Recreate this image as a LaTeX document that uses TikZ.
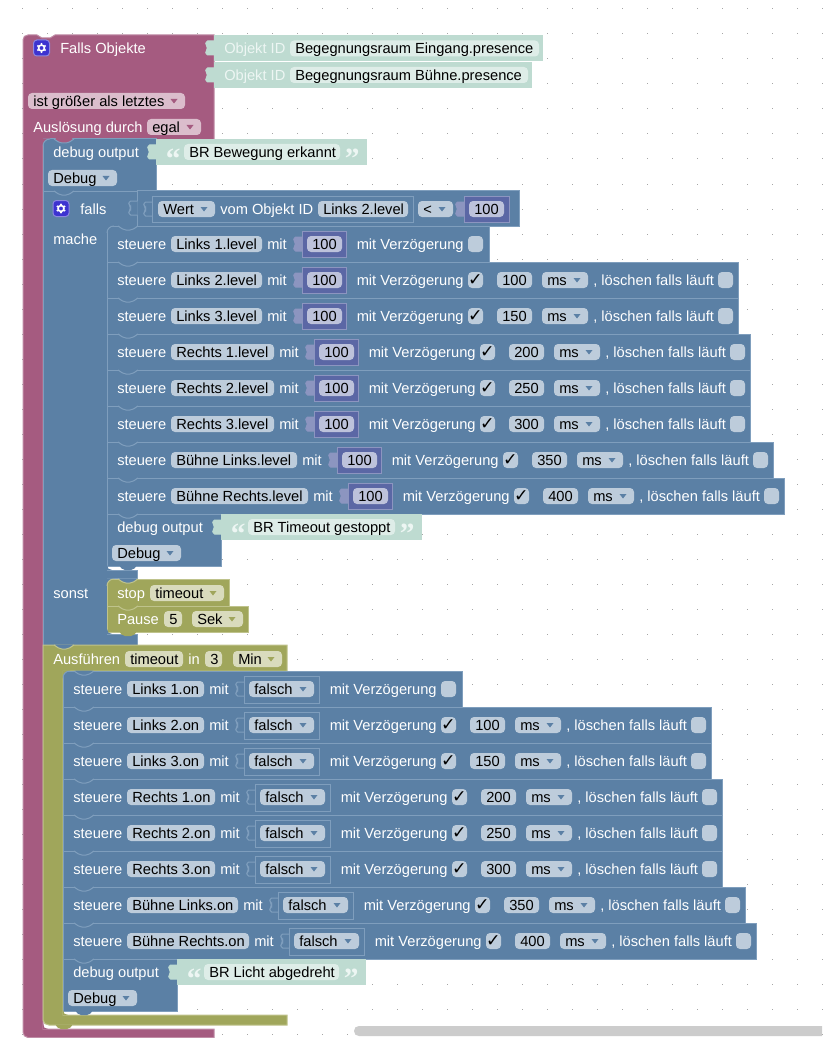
\documentclass[tikz,border=0pt]{standalone}
\usepackage{fontspec}
\setmainfont{Liberation Sans}
\newfontfamily\qf{Liberation Serif}
\newfontfamily\djf{DejaVu Sans}
\definecolor{blk}{HTML}{5B80A5}\definecolor{blkL}{HTML}{7F9EBD}\definecolor{pillB}{HTML}{BDCCDB}
\definecolor{pnk}{HTML}{A55B80}\definecolor{pnkL}{HTML}{C08CA6}\definecolor{pillP}{HTML}{DBBDCC}
\definecolor{olv}{HTML}{A0A65B}\definecolor{olvL}{HTML}{BFC38C}\definecolor{pillO}{HTML}{D9DBBD}
\definecolor{mnt}{HTML}{BEDBD1}\definecolor{pillM}{HTML}{DEEDE8}\definecolor{mntT}{HTML}{EDF6F3}
\definecolor{nmb}{HTML}{5B67A5}\definecolor{nmbL}{HTML}{8C95C0}\definecolor{pillN}{HTML}{BDC2DB}
\definecolor{gearc}{HTML}{3D33D0}\definecolor{gearL}{HTML}{8C88E0}
\newcount\nodecnt
\tikzset{txt/.style={anchor=base west,inner sep=0pt,font=\fontsize{11}{13}\selectfont},
  edge/.style={line width=0.75pt},
  pillr/.style={rounded corners=3pt}}
% text label
\newcommand\lab[4][white]{\global\advance\nodecnt 1 \node[txt,text=#1] (n\the\nodecnt) at ({#2},{#3+5.3}) {#4};}
% pill: x1,x2,yc,colour,text
\newcommand\pill[5]{\fill[#4,pillr] ({#1},{#3-8}) rectangle ({#2},{#3+8});\lab[black]{#1+5}{#3}{#5}}
% dropdown pill: x1,x2,yc,colour,arrow colour,text
\newcommand\ddp[6]{\pill{#1}{#2}{#3}{#4}{#6}\fill[#5] ({#2-14.5},{#3-2}) -- ({#2-7.5},{#3-2}) -- ({#2-11},{#3+2.5}) -- cycle;}
% top notch: x0,top,fill above,line colour
\newcommand\ntch[4]{\draw[#3,edge] ({#1+13},{#2}) -- ({#1+29},{#2});
 \fill[#3,rounded corners=1.5pt] ({#1+11},{#2-.4}) -- ({#1+17},{#2+4}) -- ({#1+25},{#2+4}) -- ({#1+31},{#2-.4}) -- cycle;
 \draw[#4,edge,rounded corners=1.5pt] ({#1+11},{#2}) -- ({#1+17},{#2+4}) -- ({#1+25},{#2+4}) -- ({#1+31},{#2});}
% bottom tab: x0,y,fill,line
\newcommand\btab[4]{\fill[#3,rounded corners=1.5pt] ({#1+12},{#2-.5}) -- ({#1+16},{#2+4}) -- ({#1+26},{#2+4}) -- ({#1+30},{#2-.5}) -- cycle;}
% puzzle tab: x (right edge), yc, fill, line
\newcommand\vtab[4]{\draw[fill=#3,draw=#4,edge,rounded corners=1.2pt] ({#1+.5},{#2-7}) -- ({#1-8},{#2-7}) -- ({#1-8},{#2-3}) -- ({#1-6.5},{#2-1}) -- ({#1-6.5},{#2+1}) -- ({#1-8},{#2+3}) -- ({#1-8},{#2+7}) -- ({#1+.5},{#2+7});}
% top-left corner: x,y,bg,line
\newcommand\corner[4]{\fill[#3] ({#1-.6},{#2-.6}) -- ({#1+7},{#2-.6}) -- ({#1+7},{#2}) .. controls ({#1+3},{#2}) and ({#1},{#2+3}) .. ({#1},{#2+7}) -- ({#1-.6},{#2+7}) -- cycle;
 \draw[#4,edge] ({#1+7},{#2}) .. controls ({#1+3},{#2}) and ({#1},{#2+3}) .. ({#1},{#2+7});}
% concave bottom-left: x,y,fill
\newcommand\concave[3]{\fill[#3] ({#1},{#2-5}) .. controls ({#1},{#2-2}) and ({#1+2},{#2}) .. ({#1+5},{#2}) -- ({#1},{#2}) -- cycle;}
% gear button
\newcommand\gearbtn[2]{\begin{scope}[shift={(#1,#2)}]
 \draw[fill=gearc,draw=gearL,edge,rounded corners=2.5pt] (-8,-8) rectangle (8,8);
 \foreach \a in {0,60,...,300} \fill[white] (\a+30:3pt) circle (0.85pt);
 \draw[white,line width=1.2pt] (0,0) circle (2.2pt);
 \end{scope}}
% steuere row: top,x0,pillw,name,blockw,delay
\newcommand\baserow[6]{%
 \pgfmathsetmacro\yc{#1+18}\pgfmathsetmacro\pr{#2+64+#3}\pgfmathsetmacro\bl{\pr+40}\pgfmathsetmacro\br{\bl+#5}%
 \def\dl{#6}\def\emptyd{}%
 \ifx\dl\emptyd \pgfmathsetmacro\re{\br+143}\else \pgfmathsetmacro\re{\br+392}\fi
 \draw[fill=blk,draw=blkL,edge] ({#2},{#1}) rectangle ({\re},{#1+36});
 \ntch{#2}{#1}{blk}{blkL}
 \lab{#2+10}{\yc}{steuere}
 \pill{#2+64}{\pr}{\yc}{pillB}{#4}
 \lab{\pr+5}{\yc}{mit}
 \lab{\br+10.5}{\yc}{mit Verzögerung}
 \fill[pillB,pillr] ({\br+122},{\yc-8}) rectangle ({\br+137},{\yc+8});
 \ifx\dl\emptyd\else
  \global\advance\nodecnt 1
  \node[anchor=center,inner sep=0pt,font=\djf\fontsize{13}{15}\selectfont] (n\the\nodecnt) at ({\br+129.5},{\yc}) {✓};
  \pill{\br+151}{\br+186}{\yc}{pillB}{#6}
  \ddp{\br+196}{\br+242}{\yc}{pillB}{blk}{ms}
  \lab{\br+247}{\yc}{, löschen falls läuft}
  \fill[pillB,pillr] ({\br+372},{\yc-8}) rectangle ({\br+387},{\yc+8});
 \fi}
\newcommand\levelrow[5]{\baserow{#1}{#2}{#3}{#4}{44}{#5}
 \vtab{\bl}{\yc}{nmbL}{nmbL}
 \draw[fill=nmb,draw=nmbL,edge] ({\bl},{#1+5}) rectangle ({\br},{#1+31});
 \pill{\bl+5}{\br-4}{\yc}{pillN}{100}}
\newcommand\onrow[5]{\baserow{#1}{#2}{#3}{#4}{75}{#5}
 \vtab{\bl}{\yc}{blk}{blkL}
 \draw[fill=blk,draw=blkL,edge] ({\bl},{#1+5}) rectangle ({\br},{#1+32});
 \ddp{\bl+5}{\br-5}{\yc}{pillB}{blk}{falsch}}
% debug block: top,x0,right,green right,pill left,pill right,text
\newcommand\dbg[7]{%
 \draw[fill=blk,draw=blkL,edge] ({#2},{#1}) rectangle ({#3},{#1+52});
 \lab{#2+10}{#1+13}{debug output}
 \ddp{#2+5}{#2+74}{#1+39}{pillB}{blk}{Debug}
 \fill[mnt] ({#3},{#1}) rectangle ({#4},{#1+26});
 \vtab{#3}{#1+13}{mnt}{mnt}
 \global\advance\nodecnt 1
 \node[anchor=base west,inner sep=0pt,text=mntT,font=\qf\bfseries\fontsize{22}{24}\selectfont] (n\the\nodecnt) at ({#3+9.5},{#1+29.5}) {“};
 \pill{#5}{#6}{#1+13}{pillM}{#7}
 \global\advance\nodecnt 1
 \node[anchor=base west,inner sep=0pt,text=mntT,font=\qf\bfseries\fontsize{22}{24}\selectfont] (n\the\nodecnt) at ({#6+4.5},{#1+29.5}) {”};}
\begin{document}
\begin{tikzpicture}[x=0.75pt,y=-0.75pt]
\useasboundingbox (0,0) rectangle (822,1038);
\fill[white] (0,0) rectangle (822,1038);
\foreach \x in {22,47,...,822} \foreach \y in {9,34,...,1034} \fill[black!35] (\x-.5,\y-.5) rectangle (\x+.5,\y+.5);
% scrollbar
\fill[black!20] (822,1026) -- (359,1026) .. controls (356,1026) and (354,1028) .. (354,1031) .. controls (354,1034) and (356,1036) .. (359,1036) -- (822,1036) -- cycle;
% ---- hat block
\draw[fill=pnk,draw=pnkL,edge] (28,35) -- (37,35) -- (42,38) -- (50,38) -- (55,35) -- (214,35) -- (214,145) -- (43,145) -- (43,1029) -- (214,1029) -- (214,1037.5) -- (28,1037.5) .. controls (25,1037.5) and (23,1035) .. (23,1032) -- (23,40) .. controls (23,37) and (25,35) .. (28,35) -- cycle;
\concave{43}{1029}{pnk}
\gearbtn{41.5}{48}
\lab{60}{48}{Falls Objekte}
\ddp{28}{185}{101}{pillP}{pnk}{ist größer als letztes}
\lab{33}{127}{Auslösung durch}
\ddp{147}{201}{127}{pillP}{pnk}{egal}
% Objekt ID blocks
\fill[mnt] (214,35) rectangle (543,61);
\vtab{214}{48}{mnt}{mnt}
\lab[mntT]{224}{48}{Objekt ID}
\pill{290}{539}{48.5}{pillM}{Begegnungsraum Eingang.presence}
\fill[mnt] (214,62) rectangle (532,88);
\vtab{214}{75}{mnt}{mnt}
\lab[mntT]{224}{75}{Objekt ID}
\pill{290}{528}{75}{pillM}{Begegnungsraum Bühne.presence}
% ---- first debug
\dbg{139}{43}{156}{367}{184}{340}{BR Bewegung erkannt}
\corner{43}{139}{pnk}{blkL}
\ntch{43}{139}{pnk}{blkL}
% ---- falls block
\draw[fill=blk,draw=blkL,edge] (43,191) -- (137,191) -- (137,226) -- (107,226) -- (107,570) -- (137,570) -- (137,578) -- (107,578) -- (107,634) -- (137,634) -- (137,645) -- (43,645) -- cycle;
\ntch{43}{191}{blk}{blkL}
\gearbtn{61}{208.5}
\lab{80}{209}{falls}
\lab{53}{239}{mache}
\lab{53}{593}{sonst}
% condition
\draw[fill=blk,draw=blkL,edge] (137,190.5) rectangle (519.5,226.5);
\vtab{137}{208}{blk}{blkL}
\vtab{152}{209}{blk}{blkL}
\draw[fill=blk,draw=blkL,edge] (152,196) rectangle (413,222);
\ddp{158}{215}{209}{pillB}{blk}{Wert}
\lab{220}{209}{vom Objekt ID}
\pill{318}{408}{209}{pillB}{Links 2.level}
\ddp{418}{453}{209}{pillB}{blk}{<}
\vtab{464}{209}{nmbL}{nmbL}
\draw[fill=nmb,draw=nmbL,edge] (464,196) rectangle (509,222);
\pill{469}{504}{209}{pillN}{100}
% level rows
\levelrow{226}{107}{91}{Links 1.level}{}
\corner{107}{226}{blk}{blkL}
\levelrow{262}{107}{91}{Links 2.level}{100}
\levelrow{298}{107}{91}{Links 3.level}{150}
\levelrow{334}{107}{103}{Rechts 1.level}{200}
\levelrow{370}{107}{103}{Rechts 2.level}{250}
\levelrow{406}{107}{103}{Rechts 3.level}{300}
\levelrow{442}{107}{126}{Bühne Links.level}{350}
\levelrow{478}{107}{137}{Bühne Rechts.level}{400}
\dbg{514}{107}{221}{422}{248}{395}{BR Timeout gestoppt}
\ntch{107}{514}{blk}{blkL}
\btab{107}{566}{blk}{blkL}
\concave{107}{570}{blk}
% stop / pause
\draw[fill=olv,draw=olvL,edge] (107,579) rectangle (229,606);
\corner{107}{579}{blk}{olvL}
\ntch{107}{579}{blk}{olvL}
\lab{117}{593}{stop}
\ddp{150}{224}{593}{pillO}{olv}{timeout}
\draw[fill=olv,draw=olvL,edge] (107,606) rectangle (248,632);
\ntch{107}{606}{olv}{olvL}
\lab{117}{619}{Pause}
\pill{164}{182}{619}{pillO}{5}
\ddp{192}{243}{619}{pillO}{olv}{Sek}
\btab{107}{632}{olv}{olvL}
\concave{107}{634}{blk}
% ---- Ausfuehren
\draw[fill=olv,draw=olvL,edge] (43,645) -- (287,645) -- (287,671) -- (63,671) -- (63,1015) -- (287,1015) -- (287,1025) -- (49,1025) .. controls (46,1025) and (43,1023) .. (43,1020) -- cycle;
\ntch{43}{645}{blk}{olvL}
\btab{43}{1025}{olv}{olvL}
\lab{53}{659}{Ausführen}
\pill{125}{183}{659}{pillO}{timeout}
\lab{188}{659}{in}
\pill{205}{222}{659}{pillO}{3}
\ddp{233}{282}{659}{pillO}{olv}{Min}
% on rows
\onrow{671}{63}{77}{Links 1.on}{}
\corner{63}{671}{olv}{blkL}
\onrow{707}{63}{77}{Links 2.on}{100}
\onrow{743}{63}{77}{Links 3.on}{150}
\onrow{779}{63}{88}{Rechts 1.on}{200}
\onrow{815}{63}{88}{Rechts 2.on}{250}
\onrow{851}{63}{88}{Rechts 3.on}{300}
\onrow{887}{63}{111}{Bühne Links.on}{350}
\onrow{923}{63}{122}{Bühne Rechts.on}{400}
\dbg{959}{63}{177}{366}{204}{339}{BR Licht abgedreht}
\ntch{63}{959}{blk}{blkL}
\btab{63}{1011}{blk}{blkL}
\concave{63}{1015}{olv}
\end{tikzpicture}
\end{document}
